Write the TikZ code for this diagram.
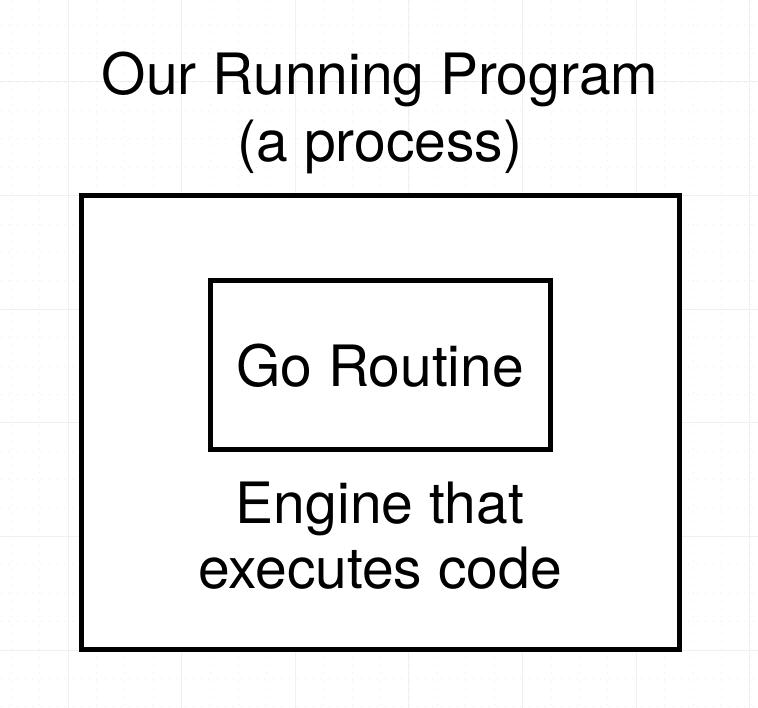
\documentclass[tikz,border=0pt]{standalone}
\usepackage{fontspec}
\setmainfont{TeX Gyre Heros}
\begin{document}
\begin{tikzpicture}[x=1pt,y=-1pt,
  gridmajor/.style={draw=black!6,line width=1pt},
  gridminor/.style={draw=black!4,line width=0.8pt,dash pattern=on 2pt off 6pt},
  boxline/.style={draw=black,line width=5pt,inner sep=0pt},
  lbl/.style={font=\fontsize{57}{67}\selectfont,inner sep=0pt,anchor=base,text=black}]
\useasboundingbox (0,0) rectangle (758,708);
\fill[white] (0,0) rectangle (758,708);
% faint background grid
\foreach \i in {-2,...,27}{
  \pgfmathsetmacro\xx{68+28.4125*\i}
  \draw[gridminor] (\xx,0) -- (\xx,708);
}
\foreach \i in {-2,...,25}{
  \pgfmathsetmacro\yy{82+28.4*\i}
  \draw[gridminor] (0,\yy) -- (758,\yy);
}
\foreach \i in {-1,...,6}{
  \pgfmathsetmacro\xx{68+113.65*\i}
  \draw[gridmajor] (\xx,0) -- (\xx,708);
}
\foreach \i in {-1,...,6}{
  \pgfmathsetmacro\yy{82+113.6*\i}
  \draw[gridmajor] (0,\yy) -- (758,\yy);
}
% title
\node[lbl] (t1) at (380,95) {Our Running Program};
\node[lbl] (t2) at (380,162) {(a process)};
% outer process box
\node[boxline,fill=white,minimum width=597.5pt,minimum height=453pt] (proc) at (380.25,422.5) {};
% inner go routine box
\node[boxline,fill=white,minimum width=340pt,minimum height=169pt,
      font=\fontsize{57}{67}\selectfont] (gr) at (380,365.5) {Go Routine};
% caption inside outer box
\node[lbl] (e1) at (380,523) {Engine that};
\node[lbl] (e2) at (380,588) {executes code};
\end{tikzpicture}
\end{document}
